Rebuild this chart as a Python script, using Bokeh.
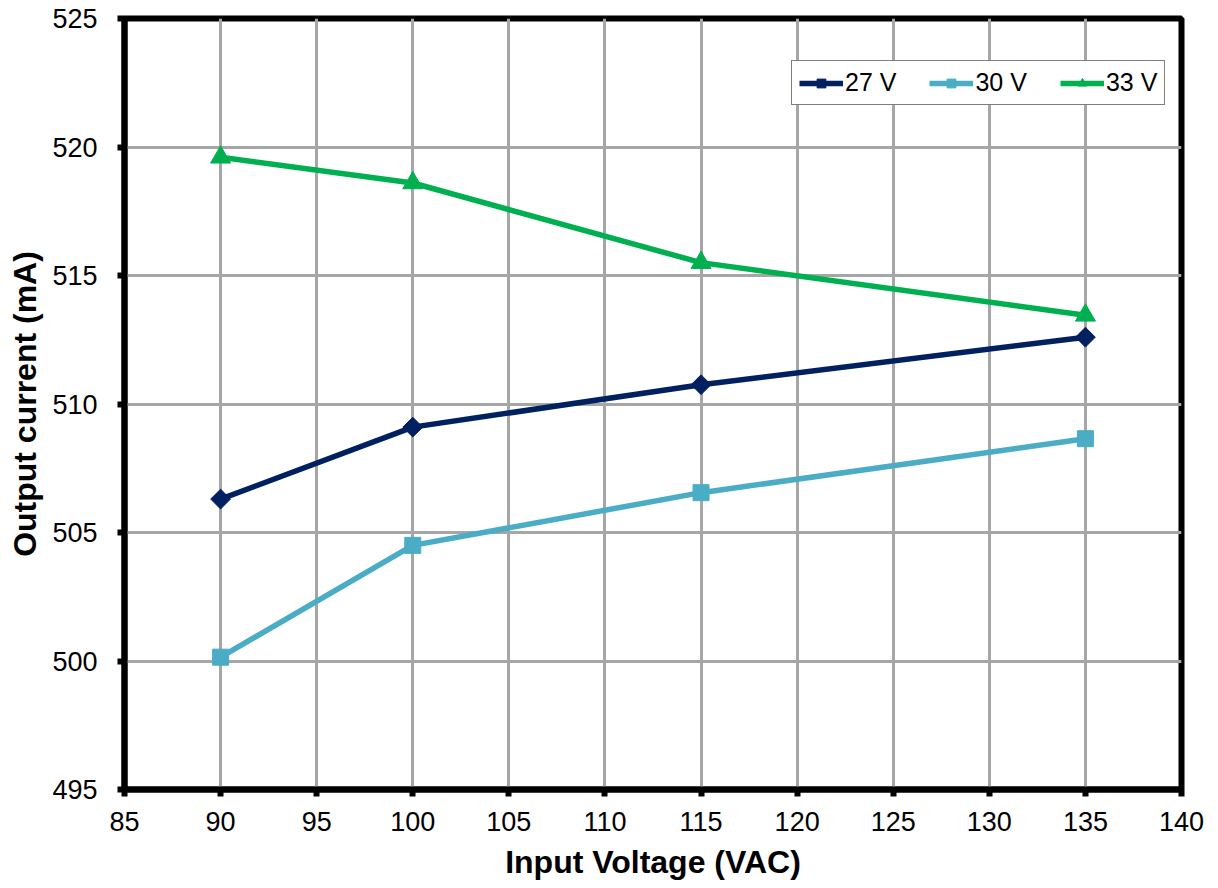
import numpy as np
from bokeh.plotting import figure
from bokeh.models import Range1d, Legend, LegendItem, FixedTicker
from bokeh.embed import file_html
from bokeh.resources import INLINE

# ---- data ----
input_voltage = [90, 100, 115, 135]
i_27v = [506.3, 509.1, 510.75, 512.6]
i_30v = [500.15, 504.5, 506.55, 508.65]
i_33v = [519.6, 518.6, 515.5, 513.45]
series_names = ["27 V", "30 V", "33 V"]
x_ticks = [85, 90, 95, 100, 105, 110, 115, 120, 125, 130, 135, 140]
y_ticks = [495, 500, 505, 510, 515, 520, 525]

FONT = "Liberation Sans"

p = figure(width=1218, height=888, output_backend="svg", toolbar_location=None,
           x_range=Range1d(85, 140), y_range=Range1d(495, 525),
           min_border_left=124, min_border_right=37, min_border_top=18, min_border_bottom=99)
p.background_fill_color = "white"
p.border_fill_color = "white"
p.outline_line_color = "black"
p.outline_line_width = 6

for ax in (p.xaxis[0], p.yaxis[0]):
    ax.axis_line_width = 6
    ax.axis_line_color = "black"
    ax.major_tick_line_width = 6
    ax.major_tick_line_color = "black"
    ax.major_tick_in = 0
    ax.major_tick_out = 7
    ax.minor_tick_line_color = None
    ax.major_label_text_font = FONT
    ax.major_label_text_font_size = "27px"
    ax.major_label_text_color = "black"
    ax.axis_label_text_font = FONT
    ax.axis_label_text_font_size = "32px"
    ax.axis_label_text_font_style = "bold"
    ax.axis_label_text_color = "black"

p.xaxis.ticker = FixedTicker(ticks=x_ticks)
p.yaxis.ticker = FixedTicker(ticks=y_ticks)
p.xaxis.axis_label = "Input Voltage (VAC)"
p.yaxis.axis_label = "Output current (mA)"
p.xaxis.major_label_standoff = 15
p.yaxis.major_label_standoff = 20
p.xaxis.axis_label_standoff = 10
p.yaxis.axis_label_standoff = 6

p.grid.grid_line_color = "#A6A6A6"
p.grid.grid_line_width = 3
p.xgrid.ticker = FixedTicker(ticks=x_ticks)
p.ygrid.ticker = FixedTicker(ticks=y_ticks)

colors = ["#002060", "#4BACC6", "#00B050"]
data = [i_27v, i_30v, i_33v]
items = []
for name, ys, c in zip(series_names, data, colors):
    ln = p.line(input_voltage, ys, line_color=c, line_width=5.5)
    if name == "27 V":
        mk = p.scatter(input_voltage, ys, marker="square", angle=np.pi / 4, size=14,
                       fill_color=c, line_color=c)
    elif name == "30 V":
        mk = p.scatter(input_voltage, ys, marker="square", size=16,
                       fill_color=c, line_color=c)
    else:
        mk = p.scatter(input_voltage, ys, marker="triangle", size=20,
                       fill_color=c, line_color=c)
    items.append(LegendItem(label=name, renderers=[ln, mk]))

legend = Legend(items=items, location=(667, 684), orientation="horizontal",
                margin=0, padding=7, spacing=33, glyph_width=44, glyph_height=22,
                label_standoff=2, label_text_font=FONT, label_text_font_size="25px",
                label_text_color="black", border_line_color="black", border_line_width=1.5,
                background_fill_color="white", background_fill_alpha=1.0)
p.add_layout(legend, "center")

open("out.html", "w").write(file_html(p, INLINE))
